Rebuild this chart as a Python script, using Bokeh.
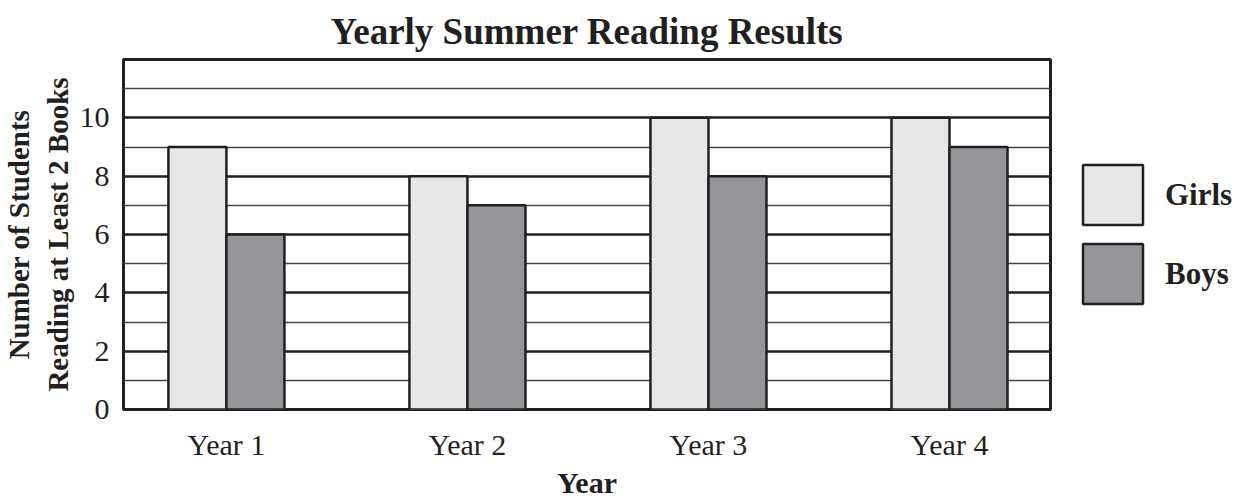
from bokeh.plotting import figure
from bokeh.models import (ColumnDataSource, Range1d, FixedTicker, Legend, LegendItem)
from bokeh.transform import dodge
from bokeh.embed import file_html
from bokeh.resources import INLINE

years = ["Year 1", "Year 2", "Year 3", "Year 4"]
girls = [9, 8, 10, 10]
boys = [6, 7, 8, 9]
y_ticks = [0, 2, 4, 6, 8, 10]

xs = [i + 1 for i in range(len(years))]
src = ColumnDataSource(data=dict(x=xs, girls=girls, boys=boys))

INK = "#231f20"
SERIF = "Liberation Serif"

p = figure(frame_width=927, frame_height=350, output_backend="svg",
           toolbar_location=None, x_range=Range1d(0.573, 4.419),
           y_range=Range1d(0, 12), min_border_left=115, min_border_top=58,
           min_border_right=188, min_border_bottom=78)

p.title.text = "Yearly Summer Reading Results"
p.title.align = "center"
p.title.text_font = SERIF
p.title.text_font_size = "37px"
p.title.text_font_style = "bold"
p.title.text_color = INK
p.title.standoff = 16

p.outline_line_color = INK
p.outline_line_width = 3

p.xgrid.grid_line_color = None
p.ygrid.ticker = FixedTicker(ticks=[2, 4, 6, 8, 10], minor_ticks=[1, 3, 5, 7, 9, 11])
p.ygrid.grid_line_color = INK
p.ygrid.grid_line_width = 2.5
p.ygrid.minor_grid_line_color = "#444444"
p.ygrid.minor_grid_line_width = 1.5

w = 0.2407
r1 = p.vbar(x=dodge("x", -w / 2), top="girls", width=w, source=src,
            fill_color="#e6e7e8", line_color=INK, line_width=2.5)
r2 = p.vbar(x=dodge("x", w / 2), top="boys", width=w, source=src,
            fill_color="#939598", line_color=INK, line_width=2.5)

for ax in (p.xaxis[0], p.yaxis[0]):
    ax.axis_line_color = None
    ax.major_tick_line_color = None
    ax.minor_tick_line_color = None
    ax.major_label_text_font = SERIF
    ax.major_label_text_font_size = "30px"
    ax.major_label_text_color = INK
    ax.axis_label_text_font = SERIF
    ax.axis_label_text_font_style = "bold"
    ax.axis_label_text_color = INK

p.xaxis.ticker = FixedTicker(ticks=xs)
p.xaxis.major_label_overrides = {x: y for x, y in zip(xs, years)}
p.xaxis.major_label_standoff = 12
p.xaxis.axis_label = "Year"
p.xaxis.axis_label_text_font_size = "30px"
p.xaxis.axis_label_standoff = 2

p.yaxis.ticker = FixedTicker(ticks=y_ticks)
p.yaxis.major_label_standoff = 8
p.yaxis.axis_label = "Number of Students\nReading at Least 2 Books"
p.yaxis.axis_label_text_font_size = "29px"
p.yaxis.axis_label_standoff = 3

legend = Legend(items=[LegendItem(label="Girls", renderers=[r1]),
                       LegendItem(label="Boys", renderers=[r2])],
                location="center_left", glyph_width=75, glyph_height=75,
                spacing=4, label_standoff=15, margin=15, padding=10,
                border_line_alpha=0, background_fill_alpha=0,
                label_text_font=SERIF, label_text_font_size="31px",
                label_text_font_style="bold", label_text_color=INK)
p.add_layout(legend, "right")

open("out.html", "w").write(file_html(p, INLINE))
